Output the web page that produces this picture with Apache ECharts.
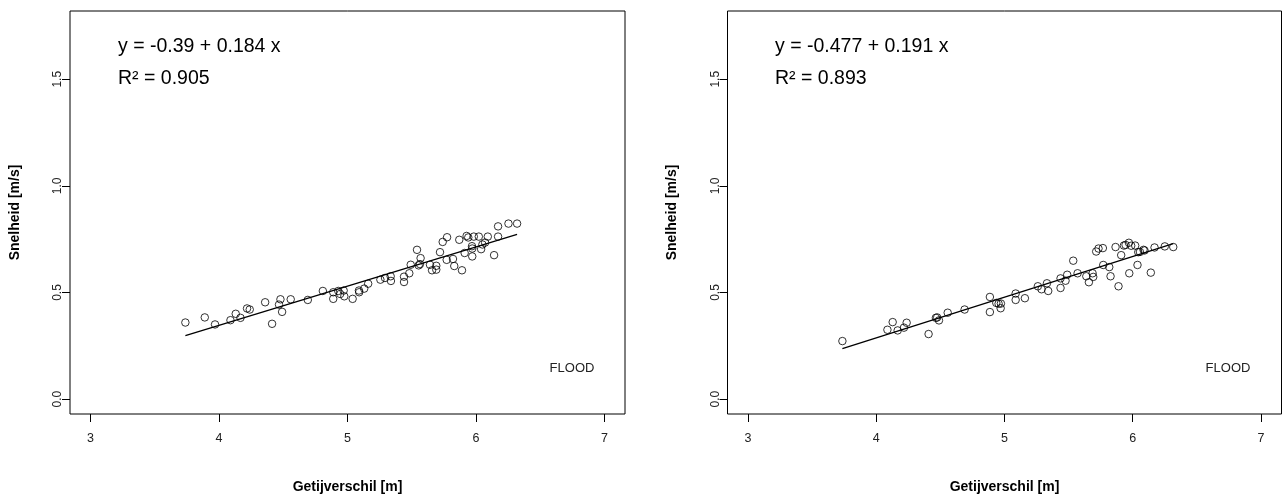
<!DOCTYPE html>
<html>
<head>
<meta charset="utf-8">
<script src="https://cdn.jsdelivr.net/npm/echarts@6/dist/echarts.min.js"></script>
<style>
html,body{margin:0;padding:0;background:#fff;}
#c{width:1282px;height:499px;}
</style>
</head>
<body>
<div id="c"></div>
<script>
// ---- data ----
const xTicks = [3, 4, 5, 6, 7];
const yTicks = [0, 0.5, 1.0, 1.5];

const leftX = [3.738,3.889,3.969,4.089,4.130,4.167,4.218,4.239,4.359,4.413,4.478,4.467,4.491,4.558,4.691,4.808,4.889,4.889,4.928,4.943,4.970,4.975,5.040,5.089,5.091,5.130,5.161,5.256,5.292,5.336,5.338,5.440,5.440,5.481,5.492,5.541,5.554,5.569,5.564,5.642,5.658,5.691,5.691,5.720,5.741,5.775,5.772,5.821,5.831,5.870,5.891,5.912,5.927,5.940,5.969,5.971,5.971,5.983,6.022,6.040,6.050,6.071,6.092,6.141,6.172,6.172,6.253,6.320];
const leftY = [0.359,0.383,0.350,0.370,0.400,0.381,0.425,0.420,0.454,0.353,0.468,0.443,0.409,0.468,0.465,0.507,0.501,0.470,0.507,0.493,0.509,0.482,0.470,0.509,0.501,0.518,0.541,0.560,0.568,0.576,0.554,0.574,0.549,0.590,0.630,0.700,0.627,0.661,0.633,0.630,0.604,0.625,0.607,0.689,0.737,0.759,0.653,0.657,0.624,0.747,0.604,0.685,0.765,0.758,0.717,0.706,0.669,0.762,0.762,0.703,0.725,0.734,0.762,0.675,0.810,0.762,0.823,0.823];

const rightX = [3.736,4.087,4.128,4.167,4.216,4.237,4.408,4.465,4.475,4.489,4.557,4.689,4.886,4.886,4.936,4.954,4.970,4.972,5.087,5.087,5.159,5.260,5.289,5.331,5.341,5.437,5.437,5.476,5.489,5.536,5.570,5.638,5.658,5.687,5.692,5.715,5.733,5.767,5.770,5.817,5.827,5.866,5.889,5.910,5.931,5.944,5.970,5.973,5.988,6.019,6.037,6.043,6.056,6.084,6.092,6.141,6.170,6.250,6.316];
const rightY = [0.272,0.325,0.361,0.322,0.335,0.358,0.305,0.381,0.383,0.369,0.405,0.420,0.479,0.408,0.451,0.447,0.426,0.448,0.495,0.465,0.473,0.529,0.515,0.543,0.507,0.566,0.521,0.555,0.583,0.649,0.590,0.576,0.548,0.590,0.573,0.692,0.706,0.708,0.629,0.619,0.576,0.713,0.529,0.675,0.720,0.723,0.733,0.590,0.719,0.720,0.629,0.689,0.690,0.700,0.697,0.593,0.711,0.716,0.713];

const fitIntercept = [-0.39, -0.477];
const fitSlope = [0.184, 0.191];
const fitR2 = [0.905, 0.893];
const panelLabel = 'FLOOD';
const xName = 'Getijverschil [m]';
const yName = 'Snelheid [m/s]';

// ---- build ----
const FONT = 'Liberation Sans, Arial, sans-serif';
function zip(a, b) { return a.map((v, i) => [v, b[i]]); }
function fitLine(xs, k) {
  const lo = Math.min(...xs), hi = Math.max(...xs);
  return [[lo, fitIntercept[k] + fitSlope[k] * lo], [hi, fitIntercept[k] + fitSlope[k] * hi]];
}

const grids = [
  { left: 70, top: 11, width: 555, height: 403.5 },
  { left: 727.5, top: 11, width: 554, height: 403.5 }
].map(g => Object.assign(g, { show: true, borderColor: '#000', borderWidth: 1, backgroundColor: '#fff', containLabel: false }));

function xAxis(i) {
  return {
    type: 'value', gridIndex: i, min: 2.84, max: 7.16, position: 'bottom',
    name: xName, nameLocation: 'middle', nameGap: 66,
    nameTextStyle: { fontFamily: FONT, fontWeight: 'bold', fontSize: 14, color: '#000' },
    axisLine: { show: false, onZero: false },
    axisTick: { show: true, inside: false, length: 8, customValues: xTicks, lineStyle: { color: '#000' } },
    axisLabel: { customValues: xTicks, fontFamily: FONT, fontSize: 12.5, color: '#222', margin: 18 },
    splitLine: { show: false }
  };
}
function yAxis(i) {
  return {
    type: 'value', gridIndex: i, min: -0.07, max: 1.82, position: 'left',
    name: yName, nameLocation: 'middle', nameGap: 48, nameRotate: 90,
    nameTextStyle: { fontFamily: FONT, fontWeight: 'bold', fontSize: 14, color: '#000' },
    axisLine: { show: false, onZero: false },
    axisTick: { show: true, inside: false, length: 8, customValues: yTicks, lineStyle: { color: '#000' } },
    axisLabel: { customValues: yTicks, rotate: 90, fontFamily: FONT, fontSize: 12, color: '#222', margin: 6,
      formatter: v => v.toFixed(1) },
    splitLine: { show: false }
  };
}

const pts = [zip(leftX, leftY), zip(rightX, rightY)];
const xsAll = [leftX, rightX];
const series = [];
[0, 1].forEach(k => {
  series.push({
    type: 'scatter', xAxisIndex: k, yAxisIndex: k, data: pts[k],
    symbol: 'circle', symbolSize: 7.5,
    itemStyle: { color: 'rgba(0,0,0,0)', borderColor: '#000', borderWidth: 1 },
    silent: true, z: 3
  });
  series.push({
    type: 'line', xAxisIndex: k, yAxisIndex: k, data: fitLine(xsAll[k], k),
    showSymbol: false, lineStyle: { color: '#000', width: 1.3 }, silent: true, z: 2
  });
});

const eqX = [118, 775];
const floodX = [572, 1228];
const graphic = [];
[0, 1].forEach(k => {
  const sign = fitSlope[k] >= 0 ? '+' : '-';
  graphic.push({ type: 'text', left: eqX[k], top: 37,
    style: { text: 'y = ' + fitIntercept[k] + ' ' + sign + ' ' + Math.abs(fitSlope[k]) + ' x', font: '19.5px ' + FONT, fill: '#000' } });
  graphic.push({ type: 'text', left: eqX[k], top: 69,
    style: { text: 'R² = ' + fitR2[k], font: '19.5px ' + FONT, fill: '#000' } });
  graphic.push({ type: 'text', x: floodX[k], y: 368,
    style: { text: panelLabel, font: '13px ' + FONT, fill: '#222', align: 'center', verticalAlign: 'middle' } });
});

const chart = echarts.init(document.getElementById('c'), null, { renderer: 'canvas' });
chart.setOption({
  backgroundColor: '#fff',
  animation: false,
  grid: grids,
  xAxis: [xAxis(0), xAxis(1)],
  yAxis: [yAxis(0), yAxis(1)],
  series: series,
  graphic: graphic
});
</script>
</body>
</html>
